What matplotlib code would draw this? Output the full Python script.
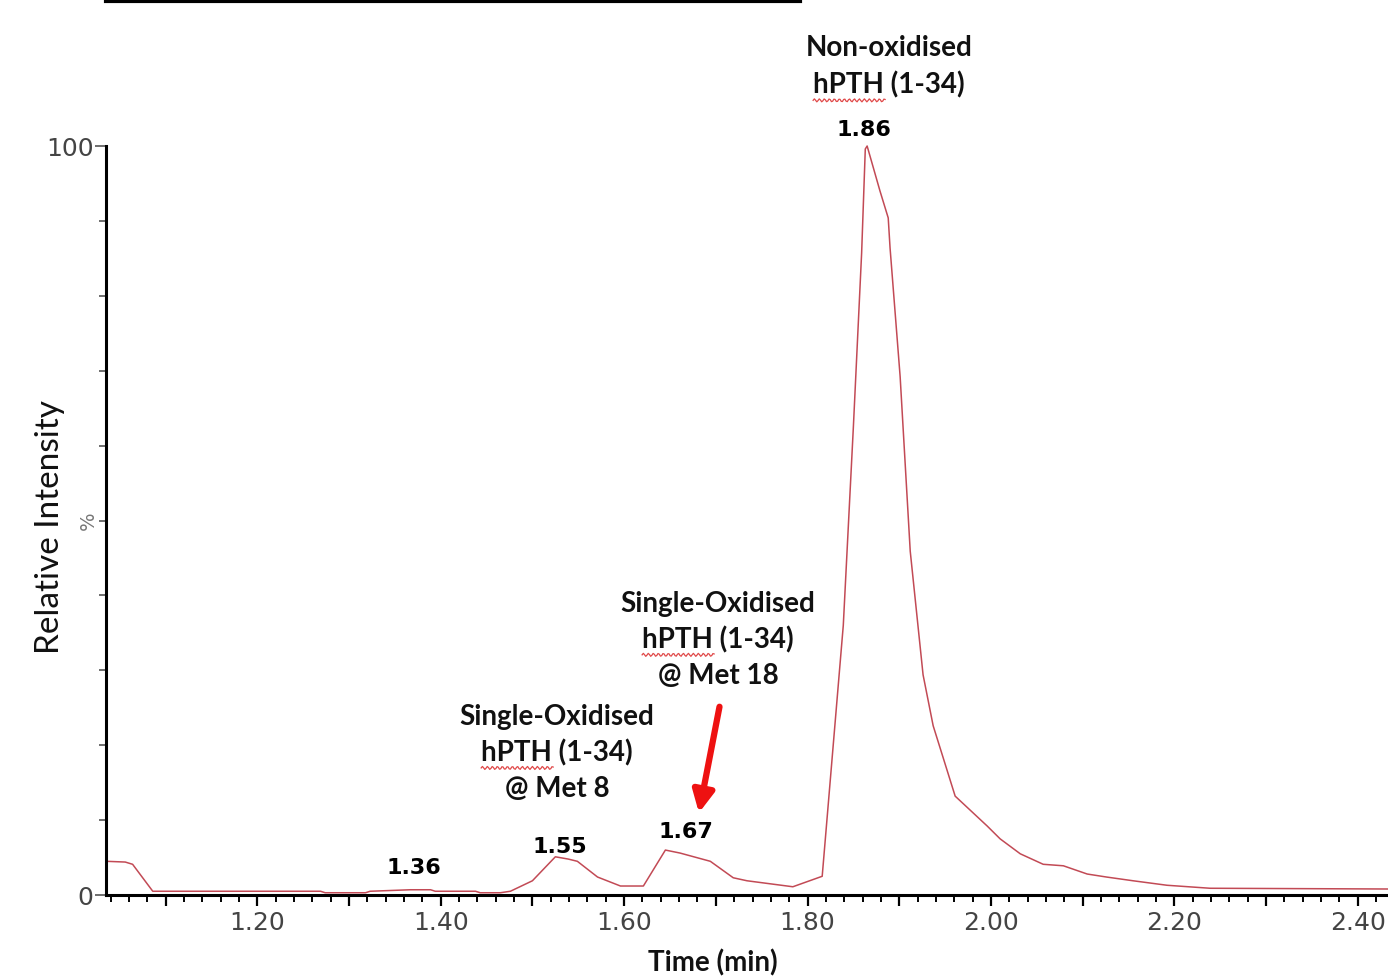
import matplotlib
matplotlib.use("Agg")
import matplotlib.pyplot as plt
from matplotlib.ticker import MultipleLocator, FuncFormatter
from matplotlib.patches import FancyArrowPatch
import numpy as np

# ---------------------------------------------------------------
# chromatogram trace
# ---------------------------------------------------------------
time_min = [1.035, 1.056, 1.064, 1.086, 1.269, 1.274, 1.318, 1.323, 1.367,
            1.389, 1.394, 1.438, 1.443, 1.465, 1.476, 1.500, 1.525, 1.539,
            1.549, 1.571, 1.596, 1.621, 1.645, 1.661, 1.694, 1.719, 1.734,
            1.784, 1.816, 1.839, 1.850, 1.859, 1.863, 1.865, 1.879, 1.888,
            1.890, 1.901, 1.912, 1.926, 1.937, 1.961, 1.996, 2.010, 2.032,
            2.057, 2.079, 2.105, 2.126, 2.155, 2.192, 2.239, 2.433]
intensity = [4.5, 4.4, 4.1, 0.5, 0.5, 0.3, 0.3, 0.5, 0.7,
             0.7, 0.5, 0.5, 0.3, 0.3, 0.5, 1.9, 5.1, 4.8,
             4.5, 2.4, 1.2, 1.2, 6.0, 5.6, 4.5, 2.3, 1.9,
             1.1, 2.5, 36.0, 62.5, 85.7, 99.6, 100.0, 94.0, 90.4,
             86.4, 69.2, 45.9, 29.4, 22.6, 13.2, 9.2, 7.5, 5.5,
             4.1, 3.9, 2.8, 2.4, 1.9, 1.3, 0.9, 0.8]

# retention time labels
peak_rt = ["1.36", "1.55", "1.67", "1.86"]
peak_x = [1.371, 1.530, 1.667, 1.862]
peak_y = [3.7, 6.6, 8.5, 102.3]

# peak identity labels
peak_names = ["Single-Oxidised\nhPTH (1-34)\n@ Met 8",
              "Single-Oxidised\nhPTH (1-34)\n@ Met 18",
              "Non-oxidised\nhPTH (1-34)"]
name_x = [1.527, 1.7025, 1.889]
name_y = [19.1, 34.2, 110.7]

# ---------------------------------------------------------------
# figure
# ---------------------------------------------------------------
W, H = 1388, 978
fig = plt.figure(figsize=(W / 100, H / 100), dpi=100)
ax = fig.add_axes([106 / W, (H - 896) / H, 1 - 106 / W, (896 - 147) / H])

ax.plot(time_min, intensity, color="#c24a55", lw=1.1, clip_on=False)

ax.set_xlim(1.035, 2.433)
ax.set_ylim(0, 100)

for s in ["top", "right"]:
    ax.spines[s].set_visible(False)
for s in ["left", "bottom"]:
    ax.spines[s].set_linewidth(2.2)

# x ticks: labels every 0.2, medium every 0.1, small every 0.02
ax.xaxis.set_major_locator(MultipleLocator(0.1))
ax.xaxis.set_minor_locator(MultipleLocator(0.02))
ax.xaxis.set_major_formatter(FuncFormatter(
    lambda v, p: f"{v:.2f}" if abs(round(v * 10) % 2) == 0 else ""))
ax.tick_params(axis="x", which="major", length=8, width=1.6, pad=3,
               labelsize=18, labelcolor="#444444", direction="out")
ax.tick_params(axis="x", which="minor", length=5, width=1.4, direction="out")

# y ticks: 0 and 100 labelled, small ticks every 10
ax.set_yticks([0, 100])
ax.yaxis.set_minor_locator(MultipleLocator(10))
ax.tick_params(axis="y", which="major", length=8, width=1.2, pad=1,
               labelsize=18, labelcolor="#444444", color="#555555")
ax.tick_params(axis="y", which="minor", length=5, width=1.2, color="#555555")

# ---------------------------------------------------------------
# labels and annotations
# ---------------------------------------------------------------
fig.text(50 / W, 1 - 527 / H, "Relative Intensity", rotation=90,
         ha="center", va="center", fontsize=24, family="Lato",
         color="#111111")
fig.text(88 / W, 1 - 521 / H, "%", rotation=90, ha="center", va="center",
         fontsize=14, color="#777777")
fig.text(713 / W, 2 / H, "Time (min)", ha="center", va="bottom",
         fontsize=20, family="Lato", fontweight="bold", color="#111111")

for lab, x, y in zip(peak_rt, peak_x, peak_y):
    ax.text(x, y, lab, ha="center", va="center", fontsize=16,
            fontweight="bold", family="DejaVu Sans", clip_on=False)

for txt, x, y in zip(peak_names, name_x, name_y):
    ax.text(x, y, txt, ha="center", va="center", fontsize=20,
            family="Lato", fontweight="bold", linespacing=1.45,
            color="#111111", clip_on=False)

# red spell-check squiggle under each "hPTH"
fig.canvas.draw()
to_fig = fig.transFigure.inverted()
for txt, x, y in zip(peak_names, name_x, name_y):
    cx, cy = ax.transData.transform((x, y))
    if txt.count("\n") == 1:
        cy -= 18.5
    wx = np.linspace(cx - 76, cx - 4, 60)
    wy = cy - 16 + 1.5 * np.sin((wx - wx[0]) / 5.0 * 2 * np.pi)
    pts = to_fig.transform(np.column_stack([wx, wy]))
    fig.add_artist(plt.Line2D(pts[:, 0], pts[:, 1], color="#e04848", lw=0.9))

# red arrow pointing at the Met 18 peak
arrow = FancyArrowPatch((1.7046, 25.5), (1.681, 10.6), arrowstyle="-|>",
                        mutation_scale=32, lw=4.5, color="#ee1111")
ax.add_patch(arrow)

# black bar cropped at the top of the source image
fig.add_artist(plt.Line2D([106 / W, 800 / W], [1 - 1.5 / H, 1 - 1.5 / H],
                          color="black", lw=3))

fig.savefig("out.png", dpi=100)
